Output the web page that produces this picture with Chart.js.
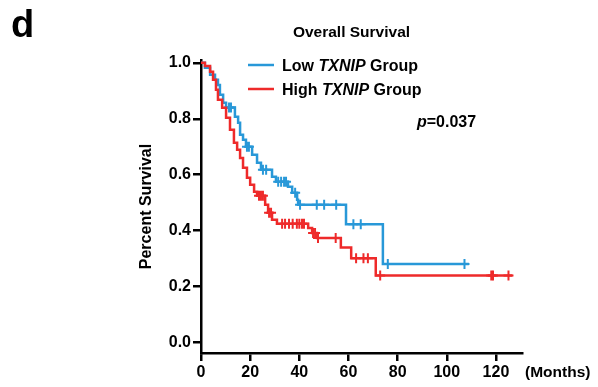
<!DOCTYPE html>
<html>
<head>
<meta charset="utf-8">
<script src="https://cdn.jsdelivr.net/npm/chart.js@4/dist/chart.umd.min.js"></script>
<style>
  html, body { margin: 0; padding: 0; background: #fff; }
</style>
</head>
<body>
<canvas id="km" width="598" height="387"></canvas>
<script>
const FONT = '"Liberation Sans", Arial, Helvetica, sans-serif';
const BLUE = '#2898d8';
const RED = '#ee2a2a';

// Low TXNIP group: times (months) where survival drops, and the new survival
const lowStepT = [1.6, 3.7, 5.7, 6.9, 7.7, 9.0, 10.2, 13.8, 15.1, 15.9, 17.1, 18.3, 20.8, 22.8, 24.4, 28.9, 30.5, 35.4, 37.1, 39.1, 39.5, 59.0, 74.0];
const lowStepS = [0.982, 0.957, 0.939, 0.921, 0.886, 0.857, 0.840, 0.807, 0.786, 0.743, 0.725, 0.700, 0.671, 0.643, 0.618, 0.593, 0.575, 0.557, 0.536, 0.511, 0.493, 0.423, 0.281];
const lowLastT = 109;
const lowCensorT = [11.4, 12.2, 18.7, 19.5, 25.2, 26.5, 31.4, 32.6, 33.8, 34.6, 38.3, 40.3, 47.1, 50.1, 55.0, 62.0, 65.0, 76.0, 107.2];

// High TXNIP group
const highStepT = [1.6, 3.7, 4.9, 6.1, 6.9, 8.6, 10.2, 11.8, 13.4, 14.7, 15.9, 17.1, 18.7, 20.0, 21.6, 22.8, 26.1, 27.3, 28.9, 30.9, 43.6, 45.2, 47.2, 56.9, 61.1, 71.1];
const highStepS = [0.989, 0.968, 0.939, 0.904, 0.868, 0.839, 0.804, 0.761, 0.714, 0.689, 0.660, 0.625, 0.589, 0.564, 0.539, 0.525, 0.493, 0.464, 0.439, 0.425, 0.410, 0.392, 0.374, 0.340, 0.302, 0.240];
const highLastT = 126.7;
const highCensorT = [23.6, 24.4, 25.2, 27.7, 28.5, 33.0, 34.2, 35.8, 37.3, 39.0, 40.0, 41.1, 41.9, 45.6, 46.4, 47.6, 54.8, 63.1, 66.1, 67.9, 72.9, 118.1, 118.8, 125.1];

const xTicks = [0, 20, 40, 60, 80, 100, 120];
const yTicks = [0, 0.2, 0.4, 0.6, 0.8, 1.0];

function curve(times, surv, lastT) {
    const pts = [{x: 0, y: 1}];
    times.forEach((t, i) => pts.push({x: t, y: surv[i]}));
    pts.push({x: lastT, y: surv[surv.length - 1]});
    return pts;
}

// survival value of the step curve at time t (for placing censor marks)
function survAt(times, surv, t) {
    let s = 1;
    times.forEach((st, i) => { if (st <= t) s = surv[i]; });
    return s;
}

function censors(times, surv, cens) {
    return cens.map(t => ({x: t, y: survAt(times, surv, t)}));
}

function drawMixed(ctx, parts, x, y) {
    parts.forEach(p => {
        ctx.font = (p[1] ? 'italic ' : '') + 'bold 16px ' + FONT;
        ctx.fillText(p[0], x, y);
        x += ctx.measureText(p[0]).width;
    });
}

const annotations = {
    id: 'annotations',
    afterDraw(chart) {
        const ctx = chart.ctx;
        ctx.save();
        ctx.fillStyle = '#000';
        ctx.textBaseline = 'alphabetic';
        ctx.textAlign = 'left';
        ctx.font = 'bold 38px ' + FONT;
        ctx.fillText('d', 11, 37);

        ctx.textAlign = 'center';
        ctx.font = 'bold 15.5px ' + FONT;
        ctx.fillText('Overall Survival', 351.5, 37);

        ctx.textAlign = 'left';
        ctx.lineWidth = 2.5;
        ctx.strokeStyle = BLUE;
        ctx.beginPath(); ctx.moveTo(248, 65); ctx.lineTo(274, 65); ctx.stroke();
        ctx.strokeStyle = RED;
        ctx.beginPath(); ctx.moveTo(248, 89); ctx.lineTo(274, 89); ctx.stroke();
        drawMixed(ctx, [['Low ', false], ['TXNIP', true], [' Group', false]], 282, 71);
        drawMixed(ctx, [['High ', false], ['TXNIP', true], [' Group', false]], 282, 95);
        drawMixed(ctx, [['p', true], ['=0.037', false]], 417, 127);

        ctx.font = 'bold 15.5px ' + FONT;
        ctx.fillText('(Months)', 525, 377);
        ctx.restore();
    }
};

new Chart(document.getElementById('km').getContext('2d'), {
    type: 'line',
    data: {
        datasets: [
            {
                data: curve(highStepT, highStepS, highLastT),
                borderColor: RED, borderWidth: 2.5, stepped: 'before',
                pointRadius: 0, fill: false
            },
            {
                type: 'scatter',
                data: censors(highStepT, highStepS, highCensorT),
                pointStyle: 'cross', pointRadius: 5, borderWidth: 2,
                borderColor: RED, backgroundColor: RED
            },
            {
                data: curve(lowStepT, lowStepS, lowLastT),
                borderColor: BLUE, borderWidth: 2.5, stepped: 'before',
                pointRadius: 0, fill: false
            },
            {
                type: 'scatter',
                data: censors(lowStepT, lowStepS, lowCensorT),
                pointStyle: 'cross', pointRadius: 5, borderWidth: 2,
                borderColor: BLUE, backgroundColor: BLUE
            }
        ]
    },
    options: {
        responsive: false,
        animation: false,
        devicePixelRatio: 1,
        layout: { padding: { top: 60, right: 76, left: 0, bottom: 0 } },
        plugins: {
            legend: { display: false },
            tooltip: { enabled: false }
        },
        scales: {
            x: {
                type: 'linear', min: 0, max: 130.6,
                border: { color: '#000', width: 2.5 },
                grid: { drawOnChartArea: false, drawTicks: true, tickLength: 8, color: '#000', lineWidth: 2.5 },
                ticks: { color: '#000', font: { family: FONT, size: 16, weight: 'bold' }, padding: 2, maxRotation: 0, autoSkip: false },
                afterBuildTicks: s => { s.ticks = xTicks.map(v => ({value: v})); },
                afterFit: s => { s.height = 34; }
            },
            y: {
                type: 'linear', min: -0.037, max: 1.01,
                border: { color: '#000', width: 2.5 },
                grid: { drawOnChartArea: false, drawTicks: true, tickLength: 8, color: '#000', lineWidth: 2.5 },
                ticks: { color: '#000', font: { family: FONT, size: 16, weight: 'bold' }, padding: 2,
                         callback: v => v.toFixed(1) },
                title: { display: true, text: 'Percent Survival', color: '#000',
                         font: { family: FONT, size: 16, weight: 'bold' }, padding: { top: 137, bottom: 0 } },
                afterBuildTicks: s => { s.ticks = yTicks.map(v => ({value: v})); },
                afterFit: s => { s.width = 201; }
            }
        }
    },
    plugins: [annotations]
});
</script>
</body>
</html>
